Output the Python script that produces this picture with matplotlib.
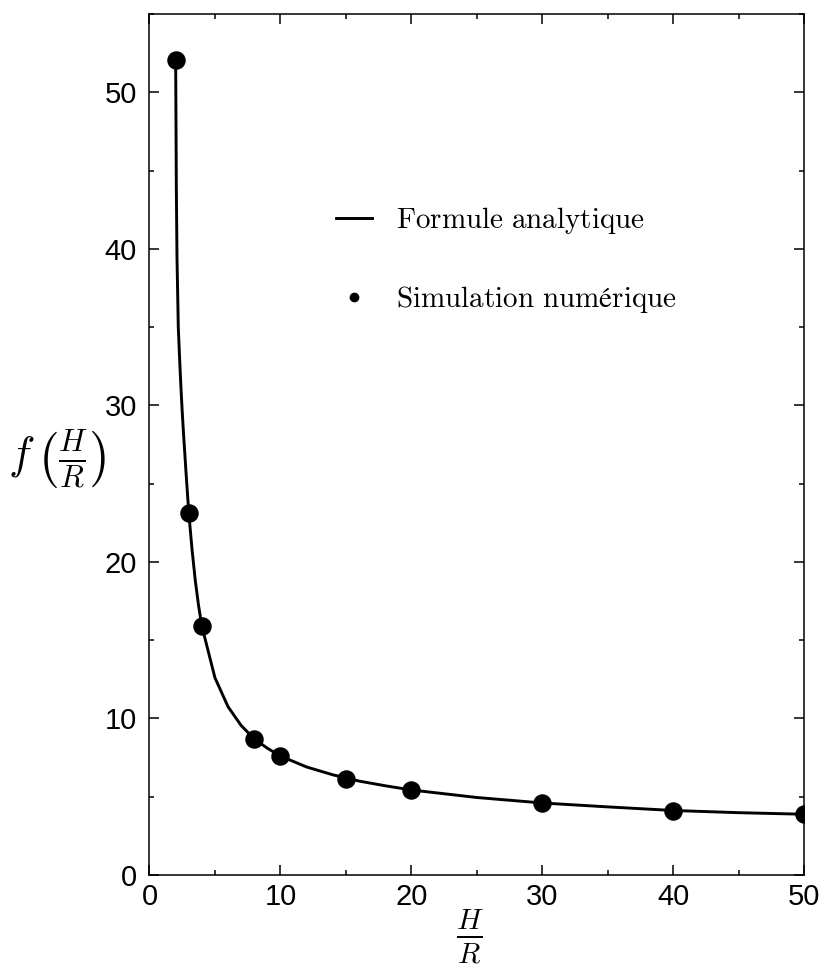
import matplotlib
matplotlib.use('Agg')
import matplotlib.pyplot as plt
from matplotlib.lines import Line2D
from matplotlib.ticker import MultipleLocator

plt.rcParams['mathtext.fontset'] = 'cm'
plt.rcParams['font.family'] = ['Liberation Sans', 'DejaVu Sans']

# analytical curve
x_curve = [2, 2.05, 2.1, 2.2, 2.3, 2.4, 2.5, 2.6, 2.8, 3, 3.25, 3.5, 3.75, 4,
           5, 6, 7, 8, 9, 10, 12, 14, 16, 18, 20, 25, 30, 35, 40, 45, 50]
y_curve = [52, 44, 39.5, 35, 33, 31.2, 29.6, 28.2, 25.6, 23.15, 20.8, 18.8, 17.2, 15.9,
           12.6, 10.75, 9.55, 8.7, 8.1, 7.6, 6.9, 6.4, 6.0, 5.7, 5.43, 4.95, 4.6, 4.35, 4.12, 3.98, 3.88]

# numerical simulation points
x_sim = [2, 3, 4, 8, 10, 15, 20, 30, 40, 50]
y_sim = [52.05, 23.15, 15.9, 8.7, 7.6, 6.14, 5.43, 4.6, 4.1, 3.9]

fig = plt.figure(figsize=(8.25, 9.68), dpi=100)
ax = fig.add_axes([0.1812, 0.0961, 0.7933, 0.8894])

ax.plot(x_curve, y_curve, color='black', linewidth=2.1, zorder=2)
ax.plot(x_sim, y_sim, 'o', color='black', markersize=12.3, zorder=3)

ax.set_xlim(0, 50)
ax.set_ylim(0, 55)
ax.xaxis.set_major_locator(MultipleLocator(10))
ax.xaxis.set_minor_locator(MultipleLocator(5))
ax.yaxis.set_major_locator(MultipleLocator(10))
ax.yaxis.set_minor_locator(MultipleLocator(5))
ax.tick_params(which='both', direction='in', top=True, right=True,
               labelsize=21, width=1.1)
ax.tick_params(which='major', length=7.2)
ax.tick_params(which='minor', length=3.6)
ax.tick_params(axis='y', pad=9)
ax.tick_params(axis='x', pad=6)
for s in ax.spines.values():
    s.set_linewidth(1.1)

# legend
handles = [Line2D([], [], color='black', linewidth=2.1),
           Line2D([], [], marker='o', color='black', linestyle='none', markersize=6)]
labels = [r'$\mathrm{Formule\ analytique}$',
          r'$\mathrm{Simulation\ numérique}$']
ax.legend(handles, labels, loc='upper left', bbox_to_anchor=(0.285, 0.778),
          frameon=False, fontsize=21, handlelength=1.25, handletextpad=0.8,
          labelspacing=1.65, borderpad=0, borderaxespad=0)

fig.text(57 / 825, 1 - 460 / 968, r'$f\,\left(\frac{H}{R}\right)$',
         fontsize=32, ha='center', va='center')
fig.text(470 / 825, 1 - 937 / 968, r'$\frac{H}{R}$',
         fontsize=30, ha='center', va='center')

fig.savefig('out.png', dpi=100)
